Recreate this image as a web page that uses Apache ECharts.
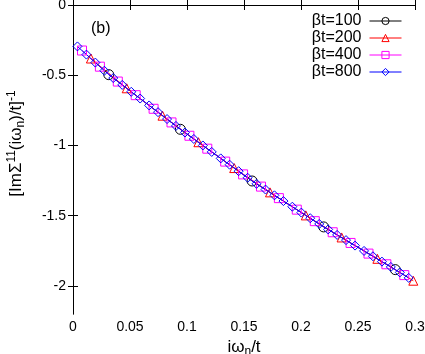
<!DOCTYPE html>
<html>
<head>
<meta charset="utf-8">
<title>Im Sigma inverse vs Matsubara frequency</title>
<style>html, body {margin: 0; padding: 0; background: #fff;}</style>
<script src="https://cdnjs.cloudflare.com/ajax/libs/echarts/6.0.0/echarts.min.js"></script>
</head>
<body>
<div id="main" style="width: 425px; height: 354px;"></div>
<script type="text/javascript">
// Matsubara frequencies (x) and inverse self-energy (y)
var x100 = [0.0314, 0.0942, 0.1571, 0.2199, 0.2827];
var y100 = [-0.496, -0.885, -1.253, -1.580, -1.884];

var x200 = [0.0157, 0.0471, 0.0785, 0.1100, 0.1414, 0.1728, 0.2042, 0.2356, 0.2670, 0.2985];
var y200 = [-0.381, -0.593, -0.788, -0.977, -1.161, -1.334, -1.498, -1.655, -1.807, -1.963];

var x400 = [0.0079, 0.0236, 0.0393, 0.0550, 0.0707, 0.0864, 0.1021, 0.1178, 0.1335, 0.1492,
            0.1649, 0.1806, 0.1963, 0.2121, 0.2278, 0.2435, 0.2592, 0.2749, 0.2906];
var y400 = [-0.324, -0.439, -0.545, -0.642, -0.739, -0.836, -0.931, -1.023, -1.115, -1.206,
            -1.293, -1.375, -1.457, -1.539, -1.618, -1.694, -1.770, -1.846, -1.923];

var x800 = [0.0039, 0.0118, 0.0196, 0.0275, 0.0353, 0.0432, 0.0511, 0.0589, 0.0668, 0.0746,
            0.0825, 0.0903, 0.0982, 0.1060, 0.1139, 0.1217, 0.1296, 0.1374, 0.1453, 0.1532,
            0.1610, 0.1689, 0.1767, 0.1846, 0.1924, 0.2003, 0.2081, 0.2160, 0.2238, 0.2317,
            0.2395, 0.2474, 0.2553, 0.2631, 0.2710, 0.2788, 0.2867, 0.2945];
var y800 = [-0.295, -0.353, -0.410, -0.468, -0.520, -0.569, -0.618, -0.666, -0.715, -0.763,
            -0.812, -0.861, -0.908, -0.954, -1.000, -1.046, -1.092, -1.137, -1.183, -1.230,
            -1.273, -1.314, -1.355, -1.396, -1.436, -1.478, -1.518, -1.559, -1.598, -1.637,
            -1.674, -1.713, -1.751, -1.789, -1.827, -1.865, -1.904, -1.943];

var xTicks = [0, 0.05, 0.1, 0.15, 0.2, 0.25, 0.3];
var yTicks = [-2, -1.5, -1, -0.5, 0];
var seriesNames = ['βt=100', 'βt=200', 'βt=400', 'βt=800'];

var fontFam = "'Liberation Sans', Arial, sans-serif";

function pairs(xs, ys) {
  return xs.map(function (x, i) { return [x, ys[i]]; });
}

function makeSeries(name, data, color, symbol, size) {
  return {
    name: name,
    type: 'line',
    data: data,
    xAxisIndex: 0,
    yAxisIndex: 0,
    symbol: symbol,
    symbolSize: size,
    showAllSymbol: true,
    animation: false,
    lineStyle: {color: color, width: 1},
    itemStyle: {color: 'rgba(0,0,0,0)', borderColor: color, borderWidth: 1},
    emphasis: {disabled: true}
  };
}

function ticks(values) {
  return {show: true, inside: true, length: 5, lineStyle: {color: '#000'}, customValues: values};
}

var chart = echarts.init(document.getElementById('main'));

var axisCommon = {
  axisLine: {show: true, lineStyle: {color: '#000', width: 1}},
  splitLine: {show: false}
};

var nameStyle = {
  fontFamily: fontFam, fontSize: 17, color: '#000',
  rich: {
    sup: {fontSize: 12, fontFamily: fontFam, padding: [0, 0, 9, 0]},
    sub: {fontSize: 12, fontFamily: fontFam, padding: [8, 0, 0, 0]}
  }
};

chart.setOption({
  backgroundColor: '#fff',
  animation: false,
  grid: {left: 73, right: 10, top: 5, bottom: 40, containLabel: false, outerBoundsMode: 'none'},
  legend: {
    orient: 'vertical',
    right: 18,
    top: 8,
    align: 'right',
    itemWidth: 32,
    itemHeight: 9,
    itemGap: 1,
    lineStyle: {width: 1},
    itemStyle: {borderWidth: 1},
    textStyle: {fontFamily: fontFam, fontSize: 16, color: '#000', padding: [0, 3, 0, 0]},
    data: seriesNames
  },
  graphic: [{
    type: 'text',
    left: 91,
    top: 21,
    style: {text: '(b)', font: '16px ' + fontFam, fill: '#000'}
  }],
  xAxis: [
    Object.assign({
      type: 'value', min: 0, max: 0.3, interval: 0.05,
      position: 'bottom',
      name: 'iω{sub|n}/t',
      nameLocation: 'middle',
      nameGap: 19,
      nameTextStyle: nameStyle,
      axisTick: ticks(xTicks),
      axisLabel: {
        fontFamily: fontFam, fontSize: 14, color: '#000', margin: 6,
        customValues: xTicks,
        formatter: function (v) { return String(+v.toFixed(2)); }
      }
    }, axisCommon),
    Object.assign({
      type: 'value', min: 0, max: 0.3, interval: 0.05,
      position: 'top',
      axisTick: ticks(xTicks),
      axisLabel: {show: false}
    }, axisCommon)
  ],
  yAxis: [
    Object.assign({
      type: 'value', min: -2.2, max: 0,
      position: 'left',
      name: '[ImΣ{sup|11}(iω{sub|n})/t]{sup|-1}',
      nameLocation: 'middle',
      nameRotate: 90,
      nameGap: 46,
      nameTextStyle: Object.assign({}, nameStyle, {padding: [0, 0, 0, 32]}),
      axisTick: ticks(yTicks),
      axisLabel: {
        fontFamily: fontFam, fontSize: 14, color: '#000', margin: 7,
        customValues: yTicks,
        formatter: function (v) { return String(+v.toFixed(2)); }
      }
    }, axisCommon),
    Object.assign({
      type: 'value', min: -2.2, max: 0,
      position: 'right',
      axisTick: ticks(yTicks),
      axisLabel: {show: false}
    }, axisCommon)
  ],
  series: [
    makeSeries(seriesNames[0], pairs(x100, y100), '#000000', 'circle', 10),
    makeSeries(seriesNames[1], pairs(x200, y200), '#ff0000', 'triangle', 9),
    makeSeries(seriesNames[2], pairs(x400, y400), '#ff00ff', 'rect', 9),
    makeSeries(seriesNames[3], pairs(x800, y800), '#0000ff', 'diamond', 9)
  ]
});
</script>
</body>
</html>
